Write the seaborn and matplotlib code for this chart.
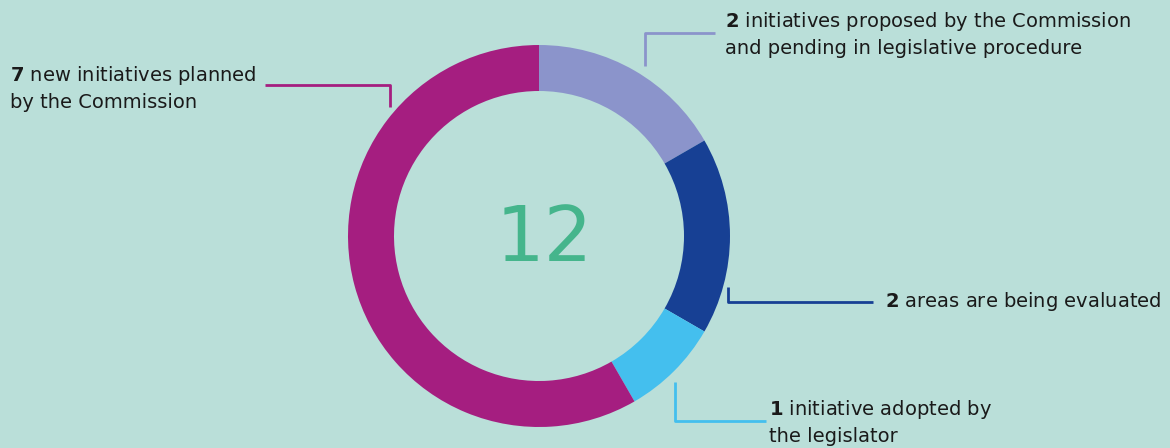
import matplotlib
matplotlib.use("Agg")
import matplotlib.pyplot as plt
import seaborn as sns

# data
labels = ["initiatives proposed by the Commission\nand pending in legislative procedure",
          "areas are being evaluated",
          "initiative adopted by\nthe legislator",
          "new initiatives planned\nby the Commission"]
counts = [2, 2, 1, 7]
total = sum(counts)

# colours
colors = ["#8B94CB", "#174094", "#44BFEE", "#A51E80"]
bg = "#BADFD9"
sns.set_style("white")
sns.set_palette(sns.color_palette(colors))
plt.rcParams["font.family"] = ["DejaVu Sans"]
plt.rcParams["mathtext.fontset"] = "dejavusans"

W, H = 1170, 448
fig = plt.figure(figsize=(W / 100, H / 100), dpi=100, facecolor=bg)
ax = fig.add_axes([0, 0, 1, 1])
ax.set_facecolor(bg)

# donut, starting at the top and running clockwise
ax.pie(counts, colors=colors, startangle=90, counterclock=False,
       center=(539, H - 236), radius=191,
       wedgeprops=dict(width=46, linewidth=0))
ax.set_xlim(0, W)
ax.set_ylim(0, H)
ax.set_aspect("equal")
ax.axis("off")

ax.text(544, H - 240, str(total), ha="center", va="center",
        fontsize=55, color="#45B58C")

# leader lines (x list, y list in pixel coords from top)
leaders = [([645, 645, 715], [66, 33, 33]),
           ([728, 728, 873], [287, 302, 302]),
           ([675, 675, 766], [382, 421, 421]),
           ([265, 390, 390], [85, 85, 107])]
text_pos = [(725, 34, "left"), (885, 301, "left"), (769, 422, "left"), (10, 88, "left")]

for (xs, ys), c, n, lab, (tx, ty, ha) in zip(leaders, colors, counts, labels, text_pos):
    ax.plot(xs, [H - y for y in ys], color=c, lw=2, solid_capstyle="butt")
    first, *rest = lab.split("\n")
    txt = r"$\mathbf{%d}$ " % n + first
    if rest:
        txt += "\n" + rest[0]
    ax.text(tx, H - ty, txt, ha=ha, va="center", fontsize=14,
            color="#1a1a1a", linespacing=1.4)

plt.savefig("out.png", dpi=100, facecolor=bg)
